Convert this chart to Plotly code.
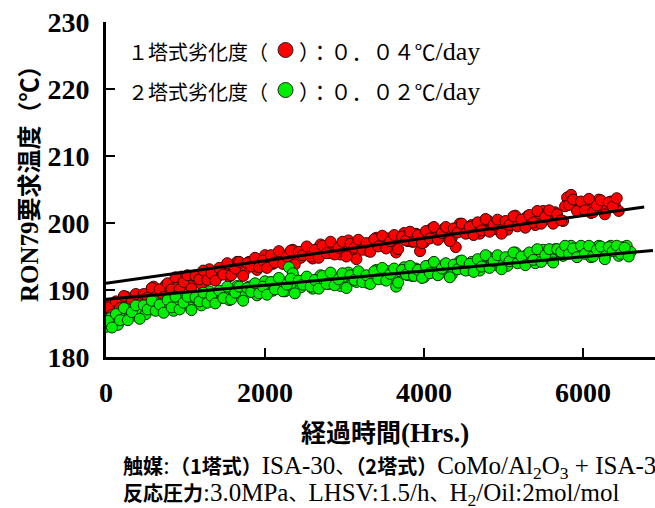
import plotly.graph_objects as go

# ---- data ----
red_hours_a = [0, 50, 100, 150, 200, 250, 300, 350, 400, 450,
               500, 550, 600, 650, 700, 750, 800, 850, 900, 950,
               1000, 1050, 1100, 1150, 1200, 1250, 1300, 1350, 1400, 1450,
               1500, 1550, 1600, 1650, 1700, 1750, 1800, 1850, 1900, 1950,
               2000, 2050, 2100, 2150, 2200, 2250, 2300, 2350, 2400, 2450,
               2500, 2550, 2600, 2650, 2700, 2750, 2800, 2850, 2900, 2950,
               3000, 3050, 3100, 3150, 3200, 3250, 3300, 3350, 3400, 3450,
               3500, 3550, 3600, 3650, 3700, 3750, 3800, 3850, 3900, 3950,
               4000, 4050, 4100, 4150, 4200, 4250, 4300, 4350, 4400, 4450,
               4500, 4550, 4600, 4650, 4700, 4750, 4800, 4850, 4900, 4950,
               5000, 5050, 5100, 5150, 5200, 5250, 5300, 5350, 5400, 5450,
               5500, 5550, 5600, 5650, 5700, 5750, 5800, 5850, 5900, 5950,
               6000, 6050, 6100, 6150, 6200, 6250, 6300, 6350, 6400, 6450]
red_temp_a = [186.5, 187.8, 187.4, 186.7, 188.2, 189.0, 187.9, 187.9, 189.2, 188.8,
              188.1, 189.6, 190.5, 189.4, 189.4, 190.7, 190.4, 189.7, 191.2, 192.0,
              190.9, 190.9, 192.1, 191.7, 190.9, 192.4, 193.1, 192.0, 191.9, 193.2,
              192.8, 192.0, 193.5, 194.2, 193.0, 193.0, 194.2, 193.8, 193.0, 194.5,
              195.2, 194.0, 193.9, 195.2, 194.7, 193.9, 195.3, 196.0, 194.9, 194.8,
              196.0, 195.5, 194.7, 196.1, 196.8, 195.6, 195.5, 196.6, 196.1, 195.3,
              196.7, 197.4, 196.1, 194.6, 197.2, 196.6, 195.8, 197.2, 197.8, 196.6,
              196.5, 197.7, 197.2, 195.6, 197.8, 198.5, 197.3, 197.2, 198.4, 195.8,
              197.1, 198.5, 199.2, 198.0, 197.9, 199.1, 198.6, 197.8, 196.4, 199.9,
              198.7, 198.6, 199.7, 199.2, 198.4, 199.8, 200.4, 199.2, 199.1, 200.3,
              199.8, 199.0, 200.4, 201.1, 199.9, 199.8, 201.0, 200.5, 199.7, 201.1,
              201.8, 200.6, 200.6, 201.6, 200.6, 200.3, 203.8, 204.2, 202.6, 202.0,
              202.9, 202.3, 201.5, 202.8, 203.5, 202.2, 202.1, 203.2, 202.7, 201.8]
red_hours_b = [25, 75, 125, 175, 225, 275, 325, 375, 425, 475,
               525, 575, 625, 675, 725, 775, 825, 875, 925, 975,
               1025, 1075, 1125, 1175, 1225, 1275, 1325, 1375, 1425, 1475,
               1525, 1575, 1625, 1675, 1725, 1775, 1825, 1875, 1925, 1975,
               2025, 2075, 2125, 2175, 2225, 2275, 2325, 2375, 2425, 2475,
               2525, 2575, 2625, 2675, 2725, 2775, 2825, 2875, 2925, 2975,
               3025, 3075, 3125, 3175, 3225, 3275, 3325, 3375, 3425, 3475,
               3525, 3575, 3625, 3675, 3725, 3775, 3825, 3875, 3925, 3975,
               4025, 4075, 4125, 4175, 4225, 4275, 4325, 4375, 4425, 4475,
               4525, 4575, 4625, 4675, 4725, 4775, 4825, 4875, 4925, 4975,
               5025, 5075, 5125, 5175, 5225, 5275, 5325, 5375, 5425, 5475,
               5525, 5575, 5625, 5675, 5725, 5775, 5825, 5875, 5925, 5975,
               6025, 6075, 6125, 6175, 6225, 6275, 6325, 6375, 6425]
red_temp_b = [187.4, 186.3, 188.3, 187.3, 189.1, 187.3, 188.4, 189.4, 187.4, 189.4,
              188.9, 190.3, 189.0, 190.1, 189.0, 191.0, 190.1, 191.9, 190.1, 191.2,
              192.2, 190.2, 192.1, 191.6, 192.9, 191.5, 192.5, 191.4, 193.3, 192.3,
              194.0, 192.2, 193.2, 194.2, 192.1, 194.0, 193.5, 194.8, 193.4, 194.4,
              193.3, 195.2, 194.1, 195.8, 193.9, 195.0, 195.9, 193.8, 195.7, 195.2,
              196.5, 195.0, 196.0, 194.8, 196.6, 195.5, 197.2, 195.3, 196.3, 197.2,
              195.0, 196.9, 196.3, 197.5, 196.0, 197.0, 195.7, 197.6, 196.5, 198.1,
              196.2, 197.3, 198.2, 196.1, 198.0, 197.4, 198.7, 197.2, 198.2, 197.0,
              198.8, 197.7, 199.4, 197.5, 198.5, 199.4, 197.3, 199.2, 198.6, 199.9,
              198.4, 199.4, 198.2, 200.1, 198.9, 200.6, 198.7, 199.7, 200.5, 198.4,
              200.3, 199.7, 201.0, 199.5, 200.5, 199.3, 201.2, 200.1, 201.8, 199.9,
              200.9, 201.9, 199.9, 201.3, 200.4, 202.5, 202.7, 203.5, 201.8, 203.2,
              201.9, 203.6, 201.6, 202.6, 203.4, 201.3, 203.1, 202.5, 203.7]

green_hours_a = [0, 50, 100, 150, 200, 250, 300, 350, 400, 450,
                 500, 550, 600, 650, 700, 750, 800, 850, 900, 950,
                 1000, 1050, 1100, 1150, 1200, 1250, 1300, 1350, 1400, 1450,
                 1500, 1550, 1600, 1650, 1700, 1750, 1800, 1850, 1900, 1950,
                 2000, 2050, 2100, 2150, 2200, 2250, 2300, 2350, 2400, 2450,
                 2500, 2550, 2600, 2650, 2700, 2750, 2800, 2850, 2900, 2950,
                 3000, 3050, 3100, 3150, 3200, 3250, 3300, 3350, 3400, 3450,
                 3500, 3550, 3600, 3650, 3700, 3750, 3800, 3850, 3900, 3950,
                 4000, 4050, 4100, 4150, 4200, 4250, 4300, 4350, 4400, 4450,
                 4500, 4550, 4600, 4650, 4700, 4750, 4800, 4850, 4900, 4950,
                 5000, 5050, 5100, 5150, 5200, 5250, 5300, 5350, 5400, 5450,
                 5500, 5550, 5600, 5650, 5700, 5750, 5800, 5850, 5900, 5950,
                 6000, 6050, 6100, 6150, 6200, 6250, 6300, 6350, 6400, 6450,
                 6500, 6550, 6600]
green_temp_a = [184.5, 185.8, 185.5, 184.8, 186.4, 187.2, 186.1, 186.2, 187.5, 187.1,
                186.4, 187.8, 188.4, 187.2, 187.1, 188.3, 187.7, 186.9, 188.3, 189.0,
                187.8, 187.7, 188.9, 188.5, 187.7, 189.1, 189.8, 188.6, 188.5, 189.8,
                189.3, 188.5, 189.9, 190.6, 189.4, 189.3, 190.5, 190.0, 189.2, 190.6,
                191.3, 190.1, 189.9, 191.1, 190.6, 189.8, 193.4, 192.5, 190.6, 190.4,
                191.6, 191.1, 190.2, 191.6, 192.2, 191.0, 190.9, 192.0, 191.5, 190.6,
                192.0, 192.6, 191.4, 191.2, 192.4, 191.8, 191.0, 192.3, 193.0, 191.7,
                191.6, 192.8, 192.2, 190.5, 192.8, 193.4, 192.2, 192.1, 193.2, 192.7,
                191.9, 193.2, 193.9, 192.7, 192.5, 193.7, 193.1, 192.3, 193.6, 194.3,
                193.1, 193.0, 194.2, 193.7, 192.9, 194.3, 195.0, 193.8, 193.7, 194.9,
                194.4, 193.6, 194.9, 195.6, 194.3, 194.2, 195.3, 194.8, 194.0, 195.3,
                196.0, 194.8, 194.8, 196.1, 195.8, 195.1, 196.4, 196.6, 195.6, 195.4,
                196.4, 195.8, 194.9, 196.3, 196.6, 195.6, 195.4, 196.6, 196.0, 195.1,
                196.4, 196.6, 195.7]
green_hours_b = [25, 75, 125, 175, 225, 275, 325, 375, 425, 475,
                 525, 575, 625, 675, 725, 775, 825, 875, 925, 975,
                 1025, 1075, 1125, 1175, 1225, 1275, 1325, 1375, 1425, 1475,
                 1525, 1575, 1625, 1675, 1725, 1775, 1825, 1875, 1925, 1975,
                 2025, 2075, 2125, 2175, 2225, 2275, 2325, 2375, 2425, 2475,
                 2525, 2575, 2625, 2675, 2725, 2775, 2825, 2875, 2925, 2975,
                 3025, 3075, 3125, 3175, 3225, 3275, 3325, 3375, 3425, 3475,
                 3525, 3575, 3625, 3675, 3725, 3775, 3825, 3875, 3925, 3975,
                 4025, 4075, 4125, 4175, 4225, 4275, 4325, 4375, 4425, 4475,
                 4525, 4575, 4625, 4675, 4725, 4775, 4825, 4875, 4925, 4975,
                 5025, 5075, 5125, 5175, 5225, 5275, 5325, 5375, 5425, 5475,
                 5525, 5575, 5625, 5675, 5725, 5775, 5825, 5875, 5925, 5975,
                 6025, 6075, 6125, 6175, 6225, 6275, 6325, 6375, 6425, 6475,
                 6525, 6575]
green_temp_b = [185.4, 184.4, 186.4, 185.5, 187.3, 185.5, 186.7, 187.7, 185.7, 187.7,
                187.1, 188.4, 186.9, 187.8, 186.6, 188.5, 187.4, 189.0, 187.1, 188.1,
                189.0, 187.0, 188.9, 188.3, 189.6, 188.1, 189.1, 188.0, 189.9, 188.8,
                190.5, 188.6, 189.6, 190.5, 188.4, 190.3, 189.7, 191.0, 189.5, 190.5,
                189.3, 191.2, 190.1, 191.8, 189.8, 190.8, 191.7, 189.5, 191.4, 190.8,
                192.0, 190.5, 191.5, 190.2, 192.1, 190.9, 192.6, 190.7, 191.6, 192.5,
                190.3, 192.2, 191.5, 192.8, 191.2, 192.2, 190.9, 192.8, 191.6, 193.3,
                191.4, 192.4, 193.2, 191.1, 193.0, 192.3, 193.6, 192.1, 193.0, 191.8,
                193.6, 192.5, 194.2, 192.2, 193.2, 194.0, 191.9, 193.8, 193.1, 194.4,
                192.9, 193.9, 192.7, 194.6, 193.5, 195.2, 193.3, 194.3, 195.2, 193.1,
                194.9, 194.3, 195.6, 194.0, 195.0, 193.7, 195.6, 194.5, 196.1, 194.2,
                195.2, 196.1, 194.1, 196.1, 195.7, 196.6, 195.4, 196.2, 194.9, 196.6,
                195.4, 196.6, 195.0, 196.0, 196.5, 194.6, 196.4, 195.8, 196.6, 195.4,
                196.3, 195.0]

red_fit_hours = [0, 6770]
red_fit_temp = [191.0, 202.4]
green_fit_hours = [0, 6880]
green_fit_temp = [188.6, 195.9]

y_ticks = [180, 190, 200, 210, 220, 230]
x_ticks = [0, 2000, 4000, 6000]

legend_heads = ["１塔式劣化度（", "２塔式劣化度（"]
legend_rates = ["０．０４", "０．０２"]
legend_colors = ["#FF0000", "#00EE00"]

SERIF = "Liberation Serif"
GOTH = "Noto Sans CJK JP"

fig = go.Figure()
fig.add_trace(go.Scatter(x=red_hours_a + red_hours_b, y=red_temp_a + red_temp_b, mode="markers",
                         marker=dict(size=11, color="#FF0000",
                                     line=dict(color="#3a0000", width=1)),
                         showlegend=False))
fig.add_trace(go.Scatter(x=green_hours_a + green_hours_b, y=green_temp_a + green_temp_b,
                         mode="markers",
                         marker=dict(size=11, color="#00EE00",
                                     line=dict(color="#003300", width=1)),
                         showlegend=False))
fig.add_trace(go.Scatter(x=red_fit_hours, y=red_fit_temp, mode="lines",
                         line=dict(color="black", width=3), showlegend=False))
fig.add_trace(go.Scatter(x=green_fit_hours, y=green_fit_temp, mode="lines",
                         line=dict(color="black", width=3), showlegend=False))

fig.update_layout(
    width=655, height=508,
    margin=dict(l=106, r=0, t=22, b=151),
    plot_bgcolor="white", paper_bgcolor="white",
    showlegend=False,
)
fig.update_xaxes(range=[0, 6906], tickvals=x_ticks, ticktext=[str(v) for v in x_ticks],
                 showgrid=False, zeroline=False, showline=True, linecolor="black",
                 linewidth=3, ticks="inside", ticklen=9, tickwidth=1.5, tickcolor="black",
                 ticklabelstandoff=8,
                 tickfont=dict(family=SERIF, size=28, color="black", weight="bold"))
fig.update_yaxes(range=[180, 230], tickvals=y_ticks, ticktext=[str(v) for v in y_ticks],
                 showgrid=False, zeroline=False, showline=True, linecolor="black",
                 linewidth=3, ticks="inside", ticklen=9, tickwidth=1.5, tickcolor="black",
                 ticklabelstandoff=8,
                 tickfont=dict(family=SERIF, size=28, color="black", weight="bold"))

G = "<span style='font-family:Noto Sans CJK JP;font-size:%dpx'>%s</span>"

ann = []
# axis titles
ann.append(dict(text="<b>" + G % (25, "経過時間") + "(Hrs.)</b>", xref="paper", yref="paper",
                x=0.508, y=-0.221, xanchor="center", yanchor="middle", showarrow=False,
                font=dict(family=SERIF, size=27, color="black")))
ann.append(dict(text="<b>RON79" + G % (24, "要求温度（℃）") + "</b>", xref="paper", yref="paper",
                x=-0.144, y=0.537, xanchor="center", yanchor="middle", showarrow=False,
                textangle=-90, font=dict(family=SERIF, size=25, color="black")))
# legend-like text
for i, (head, rate, col) in enumerate(zip(legend_heads, legend_rates, legend_colors)):
    yy = 0.9134 - i * 0.1194
    ann.append(dict(text=head, xref="paper", yref="paper", x=0.0383, y=yy,
                    xanchor="left", yanchor="middle", showarrow=False, borderpad=0,
                    font=dict(family=GOTH, size=20, color="black")))
    ann.append(dict(text="）：" + rate + "℃<span style='font-family:Liberation Serif;font-size:26px'>/day</span>",
                    xref="paper", yref="paper", x=0.3497, y=yy,
                    xanchor="left", yanchor="middle", showarrow=False, borderpad=0,
                    font=dict(family=GOTH, size=21, color="black")))
    fig.add_shape(type="circle", xref="paper", yref="paper",
                  xsizemode="pixel", ysizemode="pixel",
                  xanchor=0.327, yanchor=yy + 0.003, x0=-7.5, x1=7.5, y0=-7.5, y1=7.5,
                  fillcolor=col, line=dict(color="#222222", width=1))
# bottom notes
note1 = ("<b>" + G % (20, "触媒") + "</b>:<b>" + G % (20, "（1塔式）") + "</b>ISA-30" + G % (20, "、")
         + "<b>" + G % (20, "（2塔式）") + "</b>CoMo/Al<sub>2</sub>O<sub>3</sub> + ISA-30")
note2 = ("<b>" + G % (20, "反応圧力") + "</b>:3.0MPa" + G % (20, "、") + "LHSV:1.5/h"
         + G % (20, "、") + "H<sub>2</sub>/Oil:2mol/mol")
ann.append(dict(text=note1, xref="paper", yref="paper", x=0.029, y=-0.328,
                xanchor="left", yanchor="middle", showarrow=False, borderpad=0,
                font=dict(family=SERIF, size=25, color="black")))
ann.append(dict(text=note2, xref="paper", yref="paper", x=0.029, y=-0.410,
                xanchor="left", yanchor="middle", showarrow=False, borderpad=0,
                font=dict(family=SERIF, size=25, color="black")))
fig.update_layout(annotations=ann)

fig.write_html("out.html")
